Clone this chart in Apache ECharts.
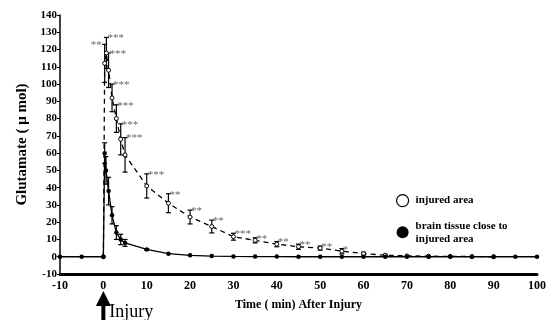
<!DOCTYPE html>
<html>
<head>
<meta charset="utf-8">
<script src="https://cdn.jsdelivr.net/npm/echarts@6/dist/echarts.min.js"></script>
<style>
  html, body { margin: 0; padding: 0; background: #fff; }
  #chart { width: 549px; height: 320px; }
</style>
</head>
<body>
<div id="chart"></div>
<script>
// injured area (open circles, dashed)
const injTime = [0, 0.3, 0.7, 1.2, 2, 3, 4, 5, 10, 15, 20, 25, 30, 35, 40, 45, 50, 55, 60, 65, 70, 75, 80, 85, 90];
const injMean = [0, 112, 118, 108, 92, 80, 68, 59, 41, 31, 23, 17.5, 11.6, 9.5, 7.3, 5.8, 5, 3.2, 1.8, 0.9, 0.5, 0.3, 0.2, 0.1, 0];
const injErr = [0, 11, 9, 10, 8, 8, 9, 10, 7, 5.5, 4, 3.7, 2, 1.5, 1.5, 1.5, 1.2, 1.5, 0.8, 0.4, 0, 0, 0, 0, 0];
const injStars = ['', '**', '***', '***', '***', '***', '***', '***', '***', '**', '**', '**', '***', '**', '**', '**', '**', '*', '', '', '', '', '', '', ''];

// brain tissue close to injured area (filled circles, solid)
const brainTime = [-10, -5, 0, 0.3, 0.6, 1.2, 2, 3, 4, 5, 10, 15, 20, 25, 30, 35, 40, 45, 50, 55, 60, 65, 70, 75, 80, 85, 90, 95, 100];
const brainMean = [0, 0, 0, 60, 50, 38, 24, 14, 10, 8, 4.2, 1.8, 0.8, 0.4, 0.2, 0.1, 0.1, 0, 0, 0, 0, 0, 0, 0, 0, 0, 0, 0, 0];
const brainErr = [0, 0, 0, 6, 8, 8, 5, 4, 3, 2, 0.5, 0, 0, 0, 0, 0, 0, 0, 0, 0, 0, 0, 0, 0, 0, 0, 0, 0, 0];

const xTicks = { min: -10, max: 100, interval: 10 };
const yTicks = { min: -10, max: 140, interval: 10 };

const serif = '"Liberation Serif", "DejaVu Serif", serif';

function errBars(time, mean, err) {
  return time.map((t, i) => [t, mean[i] - err[i], mean[i] + err[i]]).filter((d, i) => err[i] > 0);
}
function starsFor(time, err, stars) {
  return time.map((t, i) => stars[i]).filter((s, i) => err[i] > 0);
}

const injBars = errBars(injTime, injMean, injErr);
const injBarStars = starsFor(injTime, injErr, injStars);
const brainBars = errBars(brainTime, brainMean, brainErr);

function makeRender(starList) {
  return function (params, api) {
    const t = api.value(0);
    const top = api.coord([t, api.value(2)]);
    const bot = api.coord([t, api.value(1)]);
    const cap = 2.5;
    const st = { stroke: '#000', lineWidth: 1.2 };
    const children = [
      { type: 'line', shape: { x1: top[0], y1: top[1], x2: bot[0], y2: bot[1] }, style: st },
      { type: 'line', shape: { x1: top[0] - cap, y1: top[1], x2: top[0] + cap, y2: top[1] }, style: st },
      { type: 'line', shape: { x1: bot[0] - cap, y1: bot[1], x2: bot[0] + cap, y2: bot[1] }, style: st }
    ];
    const s = starList ? starList[params.dataIndex] : '';
    if (s) {
      const left = params.dataIndex === 0;
      children.push({
        type: 'text',
        style: {
          text: s,
          x: left ? top[0] - 3 : top[0] + 1,
          y: top[1] + 1,
          align: left ? 'right' : 'left',
          verticalAlign: 'middle',
          fill: '#666',
          font: '11px ' + serif
        }
      });
    }
    return { type: 'group', children: children };
  };
}

const chart = echarts.init(document.getElementById('chart'));

chart.setOption({
  animation: false,
  backgroundColor: '#fff',
  grid: { left: 60, right: 8, top: 15, bottom: 46 },
  xAxis: {
    type: 'value',
    min: xTicks.min, max: xTicks.max, interval: xTicks.interval,
    name: 'Time ( min) After Injury',
    nameLocation: 'middle',
    nameGap: 25,
    nameTextStyle: { fontFamily: serif, fontWeight: 'bold', fontSize: 12, color: '#000' },
    axisLine: { onZero: false, lineStyle: { color: '#000', width: 3 } },
    axisTick: { show: false },
    axisLabel: { fontFamily: serif, fontWeight: 'bold', fontSize: 12, color: '#000', margin: 6 },
    splitLine: { show: false }
  },
  yAxis: {
    type: 'value',
    min: yTicks.min, max: yTicks.max, interval: yTicks.interval,
    name: 'Glutamate ( \u03bc mol)',
    nameLocation: 'middle',
    nameGap: 28,
    nameTextStyle: { fontFamily: serif, fontWeight: 'bold', fontSize: 15, color: '#000' },
    axisLine: { onZero: false, lineStyle: { color: '#000', width: 1.5 } },
    axisTick: { show: true, length: 3, lineStyle: { color: '#000', width: 1 } },
    axisLabel: { fontFamily: serif, fontWeight: 'bold', fontSize: 11, color: '#000', margin: 3 },
    splitLine: { show: false }
  },
  legend: {
    orient: 'vertical',
    left: 391,
    top: 189,
    itemWidth: 16,
    itemHeight: 12,
    itemGap: 12,
    textStyle: { fontFamily: serif, fontWeight: 'bold', fontSize: 11, color: '#000', lineHeight: 13 },
    data: [
      { name: 'injured area', icon: 'circle', itemStyle: { color: '#fff', borderColor: '#000', borderWidth: 1.2 } },
      { name: 'brain tissue close to\ninjured area', icon: 'circle', itemStyle: { color: '#000', borderWidth: 0 } }
    ]
  },
  series: [
    {
      name: 'injured area',
      type: 'line',
      data: injTime.map((t, i) => [t, injMean[i]]),
      symbol: 'circle',
      symbolSize: 4,
      lineStyle: { color: '#000', width: 1.3, type: [5, 4] },
      itemStyle: { color: '#fff', borderColor: '#000', borderWidth: 1 },
      z: 3
    },
    {
      name: 'brain tissue close to\ninjured area',
      type: 'line',
      data: brainTime.map((t, i) => [t, brainMean[i]]),
      symbol: 'circle',
      symbolSize: 4.5,
      lineStyle: { color: '#000', width: 1.3 },
      itemStyle: { color: '#000' },
      z: 4
    },
    {
      type: 'custom',
      renderItem: makeRender(injBarStars),
      data: injBars,
      z: 2
    },
    {
      type: 'custom',
      renderItem: makeRender(null),
      data: brainBars,
      z: 2
    }
  ]
});

// "Injury" arrow under t = 0
const x0 = chart.convertToPixel({ xAxisIndex: 0 }, 0);
chart.setOption({
  graphic: [
    { type: 'polygon', shape: { points: [[x0, 291], [x0 - 7.5, 306], [x0 + 7.5, 306]] }, style: { fill: '#000' } },
    { type: 'rect', shape: { x: x0 - 2, y: 305, width: 4, height: 15 }, style: { fill: '#000' } },
    { type: 'text', style: { text: 'Injury', x: x0 + 6, y: 303, font: '18px ' + serif, fill: '#000' } }
  ]
});
</script>
</body>
</html>
